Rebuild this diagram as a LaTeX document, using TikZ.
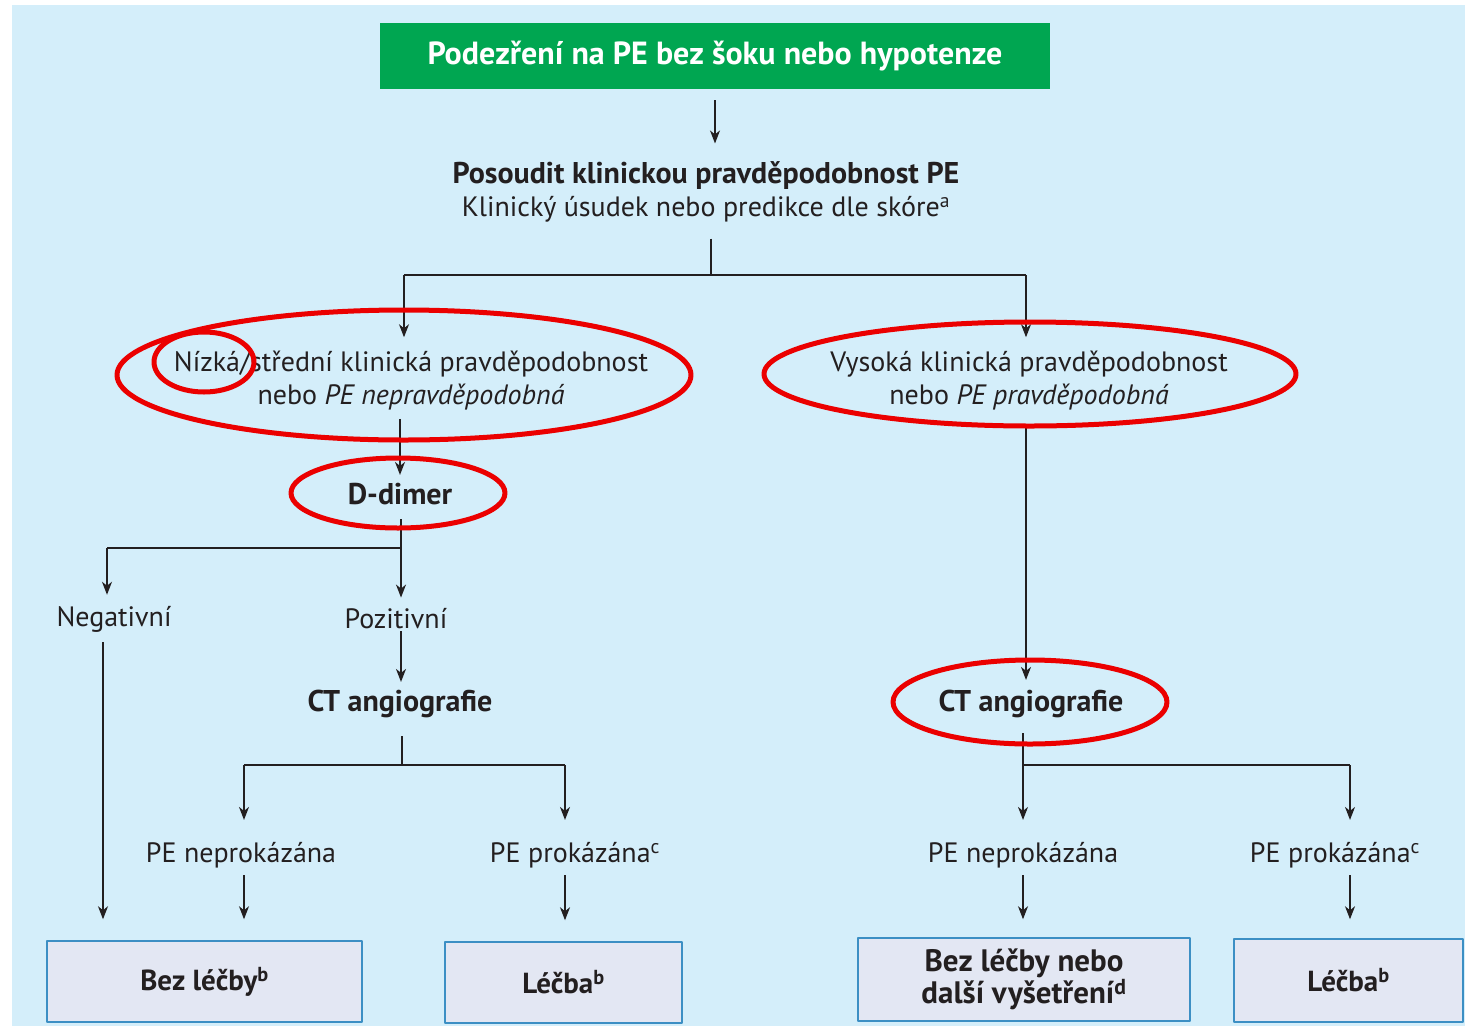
\documentclass[tikz,border=0pt]{standalone}
\usepackage{fontspec}
\setmainfont{PT Sans}
\usetikzlibrary{arrows.meta}

\definecolor{bgblue}{RGB}{212,238,250}
\definecolor{hdgreen}{RGB}{0,166,81}
\definecolor{boxfill}{RGB}{227,231,243}
\definecolor{boxline}{RGB}{60,143,196}
\definecolor{ink}{RGB}{35,31,32}
\definecolor{markred}{RGB}{235,0,0}

\newcommand{\fs}[2]{\fontsize{#1pt}{#2pt}\selectfont}

\tikzset{
  wire/.style={draw=ink, line width=1.3pt},
  arr/.style={wire, -{Stealth[length=13pt,width=10pt,inset=4pt]}},
  lbl/.style={inner sep=0pt, text=ink, font=\fs{28}{33}, align=center},
  hd/.style={lbl, font=\bfseries\fs{30}{33}},
  endbox/.style={draw=boxline, line width=1.5pt, fill=boxfill, inner sep=0pt,
    text=ink, align=center, font=\bfseries\fs{29}{32}},
  ring/.style={draw=markred, line width=5pt},
}

\begin{document}
\begin{tikzpicture}[x=1pt, y=-1pt, line join=round]
  \useasboundingbox (0,0) rectangle (1465,1026);
  \fill[bgblue] (12,5) rectangle (1465,1026);

  % top of the chart
  \node[fill=hdgreen, text=white, inner sep=0pt, font=\bfseries\fs{32}{33},
    minimum width=670pt, minimum height=66pt] (susp) at (715,56)
    {Podezření na PE bez šoku nebo hypotenze};
  \node[lbl] (assess) at (706,192)
    {{\bfseries\fs{30}{33}Posoudit klinickou pravděpodobnost PE}\\
     Klinický úsudek nebo predikce dle skóre\textsuperscript{a}};

  % probability
  \node[lbl] (low) at (411,381)
    {Nízká/střední klinická pravděpodobnost\\nebo \textit{PE nepravděpodobná}};
  \node[lbl] (high) at (1029,381)
    {Vysoká klinická pravděpodobnost\\nebo \textit{PE pravděpodobná}};

  % left branch
  \node[hd] (ddimer) at (400,494) {D-dimer};
  \node[lbl] (neg) at (114,619) {Negativní};
  \node[lbl] (pos) at (396,619) {Pozitivní};
  \node[hd] (ctl) at (400,704) {CT angiografie};
  \node[lbl] (nol) at (241,855) {PE neprokázána};
  \node[lbl] (yesl) at (575,855) {PE prokázána\textsuperscript{c}};

  % right branch
  \node[hd] (ctr) at (1031,704) {CT angiografie};
  \node[lbl] (nor) at (1023,855) {PE neprokázána};
  \node[lbl] (yesr) at (1335,855) {PE prokázána\textsuperscript{c}};

  % end boxes
  \node[endbox, minimum width=315pt, minimum height=81pt] (notl) at (204.5,981.5)
    {Bez léčby\textsuperscript{b}};
  \node[endbox, minimum width=237pt, minimum height=81pt] (treatl) at (563.5,982.5)
    {Léčba\textsuperscript{b}};
  \node[endbox, font=\bfseries\fs{31}{32}, minimum width=332pt, minimum height=83pt]
    (notr) at (1024,979.5) {Bez léčby nebo\\další vyšetření\textsuperscript{d}};
  \node[endbox, minimum width=229pt, minimum height=83pt] (treatr) at (1348.5,980.5)
    {Léčba\textsuperscript{b}};

  % junctions
  \coordinate (j1) at (711,275);
  \coordinate (j1l) at (404,275);
  \coordinate (j1r) at (1026,275);
  \coordinate (j2) at (401,548);
  \coordinate (j2l) at (107,548);
  \coordinate (j3) at (402,765);
  \coordinate (j3l) at (244,765);
  \coordinate (j3r) at (565,765);
  \coordinate (j4) at (1023,765);
  \coordinate (j4r) at (1350,765);

  % connectors
  \draw[arr, shorten <=11pt, shorten >=18pt] (susp) -- (susp |- assess.north);
  \draw[wire, shorten <=16pt] (assess.south -| j1) -- (j1);
  \draw[wire] (j1l) -- (j1r);
  \draw[arr, shorten >=14pt] (j1l) -- (j1l |- low.north);
  \draw[arr, shorten >=14pt] (j1r) -- (j1r |- high.north);

  \draw[arr, shorten <=8pt, shorten >=8pt] (low.south -| ddimer) -- (ddimer.north);
  \draw[wire, shorten <=14pt] (ddimer.south -| j2) -- (j2);
  \draw[wire] (j2) -- (j2l);
  \draw[arr, shorten >=11pt] (j2l) -- (j2l |- neg.north);
  \draw[arr, shorten >=11pt] (j2) -- (j2 |- pos.north);
  \draw[arr, shorten <=2pt, shorten >=8pt] (pos.south -| j2) -- (j2 |- ctl.north);
  \draw[arr, shorten <=10pt, shorten >=21pt] ([xshift=-11pt]neg.south) -- ([xshift=-11pt]neg.south |- notl.north);

  \draw[wire, shorten <=18pt] (ctl.south -| j3) -- (j3);
  \draw[wire] (j3l) -- (j3r);
  \draw[arr, shorten >=22pt] (j3l) -- (j3l |- nol.north);
  \draw[arr, shorten >=22pt] (j3r) -- (j3r |- yesl.north);
  \draw[arr, shorten <=7pt, shorten >=21pt] (nol.south -| j3l) -- (j3l |- notl.north);
  \draw[arr, shorten <=7pt, shorten >=21pt] (yesl.south -| j3r) -- (j3r |- treatl.north);

  \draw[arr, shorten <=13pt, shorten >=10pt] (high.south -| j1r) -- (j1r |- ctr.north);
  \draw[wire, shorten <=15pt] (ctr.south -| j4) -- (j4);
  \draw[wire] (j4) -- (j4r);
  \draw[arr, shorten >=22pt] (j4) -- (j4 |- nor.north);
  \draw[arr, shorten >=22pt] (j4r) -- (j4r |- yesr.north);
  \draw[arr, shorten <=7pt, shorten >=18pt] (nor.south -| j4) -- (j4 |- notr.north);
  \draw[arr, shorten <=7pt, shorten >=19pt] (yesr.south -| j4r) -- (j4r |- treatr.north);

  % red marks
  \draw[ring] (404,375) ellipse [x radius=287pt, y radius=65pt];
  \draw[ring] (204,362) ellipse [x radius=50pt, y radius=30pt];
  \draw[ring] (398,493) ellipse [x radius=107pt, y radius=35pt];
  \draw[ring] (1030,374) ellipse [x radius=266pt, y radius=52pt];
  \draw[ring] (1030,702) ellipse [x radius=137pt, y radius=42pt];
\end{tikzpicture}
\end{document}
